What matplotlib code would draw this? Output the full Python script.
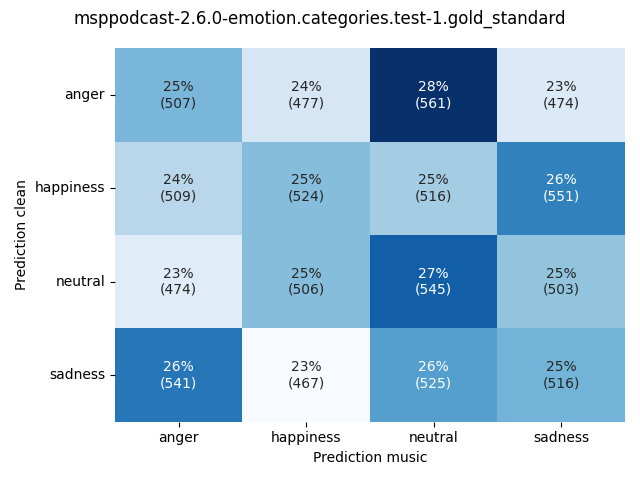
import numpy as np
import matplotlib
matplotlib.use('Agg')
import matplotlib.pyplot as plt
import seaborn as sns

labels = ['anger', 'happiness', 'neutral', 'sadness']
counts = np.array([
    [507, 477, 561, 474],
    [509, 524, 516, 551],
    [474, 506, 545, 503],
    [541, 467, 525, 516],
])

percent = counts / counts.sum(axis=1, keepdims=True) * 100
annot = np.array([[f'{p:.0f}%\n({c})' for p, c in zip(prow, crow)]
                  for prow, crow in zip(percent, counts)])

fig, ax = plt.subplots(figsize=(6.4, 4.8), dpi=100)
sns.heatmap(percent, annot=annot, fmt='', cmap='Blues', cbar=False,
            xticklabels=labels, yticklabels=labels, ax=ax)
ax.set_xlabel('Prediction music')
ax.set_ylabel('Prediction clean')
ax.tick_params(axis='y', rotation=0)
fig.suptitle('msppodcast-2.6.0-emotion.categories.test-1.gold_standard')
fig.tight_layout()
fig.savefig('out.png')
